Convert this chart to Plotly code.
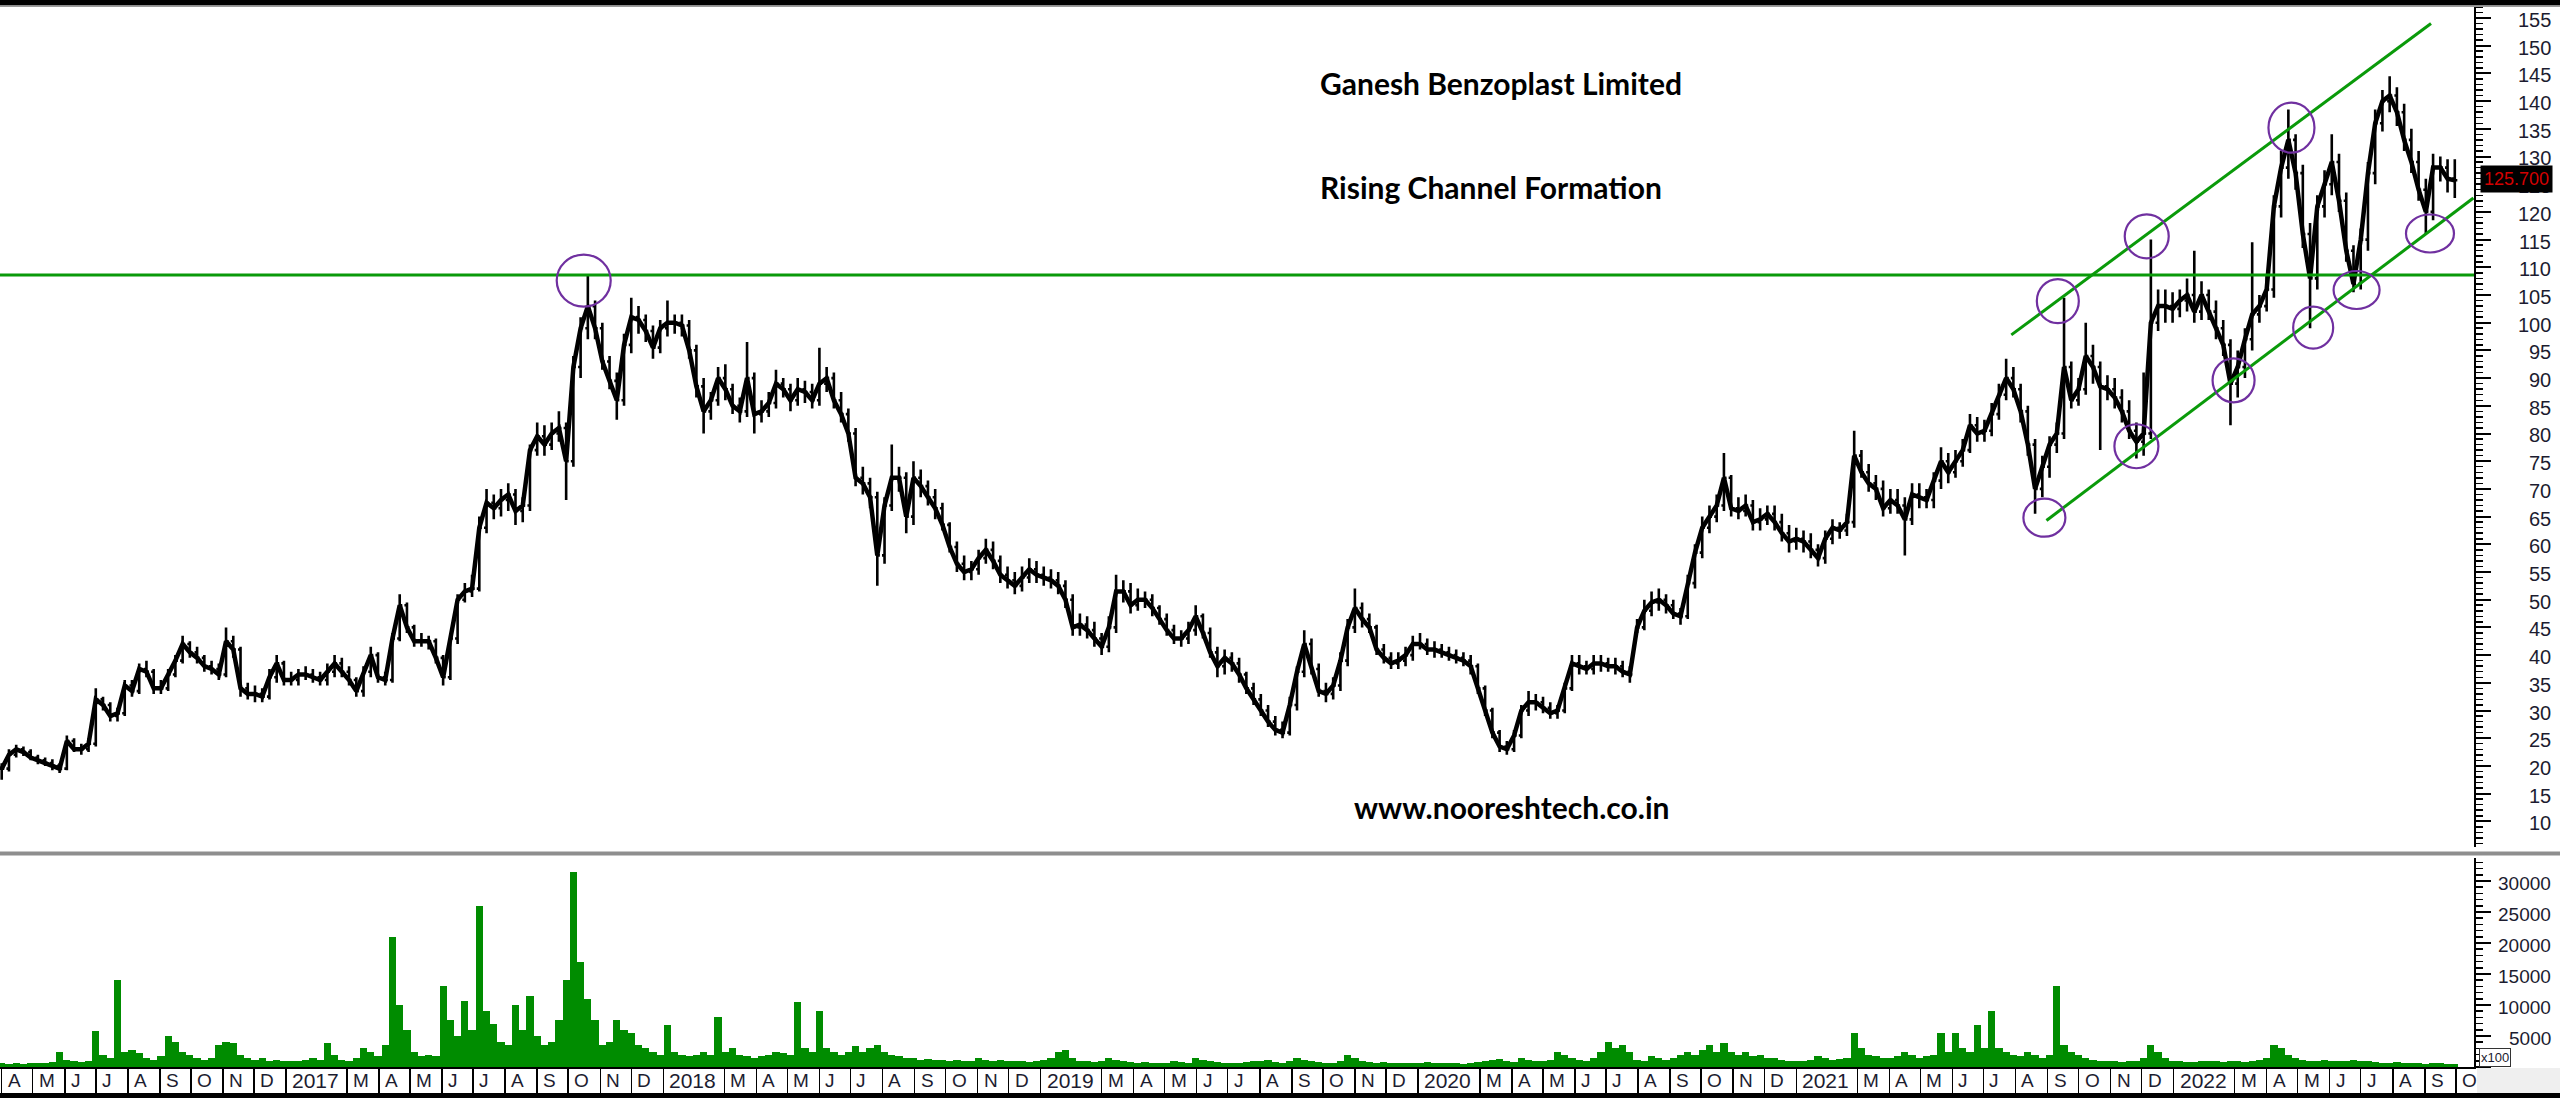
import pandas as pd
import plotly.graph_objects as go

# ---------------- data (weekly) ----------------
week_start = "2016-04-01"

close = [
    19.5, 22, 23, 22.5, 21.5, 21, 20.5, 20, 19.5, 24.5,
    23, 23, 24, 32, 31, 29, 29.5, 34.5, 33.5, 37.5,
    37, 34, 34, 36.5, 39, 42, 40.5, 39.5, 38, 37.5,
    36.5, 42.5, 41, 34, 33, 33, 32.5, 36, 38.5, 35.5,
    35.5, 36.5, 36.5, 36, 35.5, 37, 38.5, 37, 35.5, 33.5,
    37, 40, 36, 35.5, 43, 49, 45, 42.5, 42.5, 42.5,
    39.5, 36, 43, 50, 51.5, 52, 63, 67.5, 66.5, 68,
    69, 66, 67, 77, 79.5, 78, 80, 81, 75, 92,
    99, 103, 99, 93, 89.5, 86, 96, 101, 100.5, 98.5,
    95.5, 99, 100, 100, 99.5, 95, 88.5, 84, 86, 90,
    88, 85, 84, 90, 83.5, 84, 85.5, 89, 88, 86,
    88, 87.5, 86, 89, 90, 86, 83.5, 80, 72, 71,
    68.5, 58, 67, 72, 72, 65, 72, 70.5, 68.5, 66.5,
    63.5, 59.5, 56.5, 55, 55.5, 57.5, 59, 57, 54.5, 53.5,
    52.5, 54, 55.5, 54.5, 54, 53.5, 52.5, 50, 45, 45.5,
    44.5, 43, 41.5, 45, 51.5, 51.5, 49, 50, 50, 48.5,
    46.5, 44.5, 43, 43, 44.5, 47, 44, 40.5, 38, 39.5,
    38.5, 36.5, 34, 32, 30, 28, 26.5, 26, 31, 37,
    42, 37.5, 33.5, 33, 34.5, 39, 45, 48.5, 46.5, 45,
    41, 39.5, 38.5, 39, 40, 42, 42, 41, 41, 40.5,
    40, 39.5, 39, 38, 34, 30, 26, 23.5, 23, 25.5,
    30, 31.5, 31.5, 30.5, 29.5, 30, 34, 38.5, 38, 37.5,
    38.5, 38.5, 38, 38, 37, 36.5, 45, 48, 49.5, 50,
    49, 47.5, 47, 53, 58.5, 63, 65, 67, 72, 66.5,
    66, 67, 64, 64.5, 65.5, 64, 62, 60.5, 61, 60.5,
    59, 57.5, 61, 63, 62.5, 64, 76, 73, 71, 70,
    66.5, 68, 67, 64.5, 69, 68.5, 68, 71.5, 75, 73,
    75, 77, 81.5, 80, 80.5, 83.5, 87, 90, 88, 84,
    78, 70, 74, 78, 80, 92, 86, 88, 94, 92,
    88.5, 88, 86.5, 84, 80.5, 78.5, 80, 100, 103, 103,
    102.5, 104, 105, 102, 105, 102, 99, 96, 89, 92,
    97, 101.5, 103, 106, 121, 128, 133, 127, 116, 108,
    121, 125, 129, 122, 113, 107, 115, 127, 136, 140,
    141, 138, 133, 129, 124, 120, 128, 128, 126, 125.7,
]

high = [
    20.5, 23, 23.8, 23.5, 23, 22, 21.5, 21.2, 20.5, 25.5,
    25, 24, 25, 34, 32.5, 31.5, 30.5, 35.5, 35.5, 38.5,
    39, 37.5, 35.5, 37.5, 40, 43.5, 42.5, 41.5, 40, 39,
    38.5, 45, 43.5, 41.5, 35, 34.5, 34, 37.5, 40, 39,
    37, 37.5, 38, 37.5, 37, 38.5, 40, 39.5, 38, 36,
    38, 41.5, 40.5, 37, 44, 51, 49.5, 45.5, 44, 43.5,
    43, 40, 44, 51, 53, 54.5, 65, 70, 69, 70,
    71, 70, 68.5, 78, 82, 81.5, 82, 84, 82, 94,
    101, 108.5, 104, 100, 94, 91, 98, 104.5, 103, 101.5,
    99.5, 100.5, 104, 101.5, 101.5, 100.5, 96, 90, 87.5, 92,
    92.5, 89, 86.5, 96.5, 91, 86, 87.5, 91.5, 90, 89,
    90, 89.5, 89, 95.5, 92, 91, 87.5, 84.5, 81, 74,
    72, 69.5, 68.5, 78, 74, 73, 75, 73.5, 71.5, 70,
    67.5, 64, 60.5, 58, 57, 59, 61, 60.5, 58, 56,
    55, 56, 57.5, 57, 56, 55.5, 55, 53.5, 51, 47.5,
    47, 46, 44, 47, 54.5, 53.5, 53, 52, 51.5, 51,
    49, 47.5, 45.5, 44.5, 46, 49, 47.5, 45, 41.5, 41,
    40.5, 39.5, 37, 35, 33, 31, 29, 28, 32.5, 38,
    44.5, 43, 38.5, 35, 36, 40.5, 46.5, 52, 49.5, 47.5,
    45.5, 42, 40.5, 40.5, 41.5, 43.5, 44, 43, 42.5, 42,
    41.5, 41, 40.5, 40, 38.5, 34.5, 30.5, 26.5, 24.5, 26.5,
    31, 33.5, 33, 32.5, 31.5, 31, 35, 40, 40, 39,
    40, 40, 39.5, 39.5, 39, 38, 46.5, 50, 51.5, 52,
    51, 50, 48.5, 54.5, 60, 65, 67, 69, 76.5, 72.5,
    68.5, 69, 68, 66.5, 67, 67, 65.5, 63.5, 63, 62.5,
    62, 60, 62.5, 64.5, 64, 65.5, 80.5, 77, 74.5, 72.5,
    71.5, 70, 70, 68.5, 71, 71, 70, 73, 77.5, 76.5,
    77, 79, 83.5, 83, 82.5, 85.5, 89, 93.5, 92, 89,
    85, 79, 76, 79.5, 82, 104.5, 93, 90, 100, 96,
    93, 90.5, 90, 88, 86, 82, 91, 115, 106, 106,
    105.5, 106, 108, 113, 107.5, 106, 104, 100.5, 97, 95,
    99, 114.5, 105, 108.5, 123, 131, 138.5, 134, 128.5, 118,
    123, 127.5, 134, 130.5, 123.5, 114, 117, 129, 138.5, 142,
    144.5, 142.5, 139.5, 135, 131, 126, 130.5, 130, 129.5, 129.5,
]

low = [
    17.5, 19, 21.5, 21.8, 21, 20.3, 20, 19.2, 18.7, 19.2,
    22.5, 22, 22.5, 23.5, 30, 28, 28, 29, 32.5, 33,
    36, 33, 33, 33.5, 36, 38.5, 39.5, 38.5, 37, 36.5,
    35.5, 36, 39.5, 32.5, 32, 31.5, 31.5, 32, 35, 34.5,
    34.5, 34.5, 35.5, 35, 34.5, 34.5, 36, 36, 34.5, 32.5,
    32.5, 36, 35, 34.5, 35, 42.5, 44, 41.5, 41.5, 41,
    38.5, 34.5, 35.5, 42, 49.5, 50.5, 51.5, 62, 64.5, 65,
    66, 63.5, 64, 66, 76, 76, 77, 78.5, 68, 74,
    90, 97, 97, 91.5, 88, 82.5, 85, 94.5, 98, 96.5,
    93.5, 94.5, 97.5, 98, 97.5, 93.5, 86.5, 80, 82.5, 85,
    86, 83.5, 82, 83, 80, 82, 83, 84.5, 86.5, 84,
    85, 85.5, 84.5, 85, 87.5, 84.5, 82, 78.5, 70.5, 69,
    66.5, 52.5, 56.5, 66, 69.5, 62, 63.5, 68.5, 67, 64.5,
    62.5, 58.5, 55, 53.5, 53.5, 54.5, 56.5, 55.5, 53, 52,
    51, 51.5, 53, 53, 52.5, 52, 51, 48.5, 43.5, 43.5,
    43, 41.5, 40, 40.5, 44, 49.5, 47.5, 48, 48.5, 47,
    45.5, 43.5, 42, 41.5, 42, 43.5, 43, 39.5, 36, 36.5,
    37, 35, 33, 31, 29, 27, 25.5, 25, 25.5, 30,
    36, 36.5, 32.5, 31.5, 32, 33.5, 38, 44, 45, 44,
    40, 38.5, 37.5, 37.5, 38, 39, 41, 40, 39.5, 39.5,
    39, 38.5, 38, 36.5, 33, 29, 25, 22.5, 22, 22.5,
    25, 29, 30, 29.5, 28.5, 28.5, 29.5, 33.5, 36.5, 36.5,
    36.5, 37, 37, 36.5, 36, 35, 44, 44.5, 47, 48,
    47.5, 46.5, 45.5, 46.5, 52, 57.5, 62, 64, 66, 65,
    64.5, 65, 62.5, 62.5, 63.5, 62.5, 60.5, 58.5, 59, 58.5,
    57.5, 56, 56.5, 60, 61, 61.5, 63, 72, 69.5, 68,
    65, 65.5, 65.5, 58, 63.5, 66.5, 66.5, 66.5, 70, 71,
    72, 74, 76.5, 78.5, 78.5, 79.5, 82.5, 86, 86.5, 82,
    76, 65.5, 68.5, 72, 76.5, 79, 84.5, 85, 87, 89,
    77, 86, 84.5, 82, 79, 75.5, 76, 79, 98.5, 100,
    100, 101, 102, 100, 100.5, 100.5, 97, 94, 81.5, 86.5,
    90, 95, 100, 102, 104.5, 119, 126, 124, 113.5, 99,
    106, 119, 123, 120, 111, 105.5, 106, 113, 125, 134.5,
    138, 135.5, 131, 127, 122, 116, 118.5, 125.5, 123.5, 122.5,
]

volume = [  # x100 shares
    600, 500, 700, 500, 600, 700, 600, 800, 2500, 1200,
    900, 800, 1000, 5800, 2000, 1500, 14000, 2500, 2800, 2200,
    1500, 1200, 1800, 5000, 4000, 2500, 2000, 1500, 1200, 1500,
    3500, 4000, 3800, 2000, 1500, 1200, 1500, 1000, 1200, 1000,
    900, 1000, 1200, 1500, 1100, 3800, 2000, 1200, 1000, 1500,
    3000, 2500, 1800, 3500, 21000, 10000, 6000, 2500, 1800, 2000,
    1800, 13000, 7600, 5000, 10700, 6000, 26000, 9000, 7000, 4000,
    3500, 10000, 6000, 11500, 5000, 3500, 4000, 7600, 14000, 31500,
    17000, 11000, 7600, 3500, 4000, 7600, 6000, 5500, 3500, 3000,
    2500, 2000, 6800, 2500, 2000, 1800, 2000, 2500, 2000, 8000,
    2500, 3000, 2000, 1800, 1500, 1800, 2000, 2500, 2200, 2000,
    10500, 3000, 2500, 9000, 3000, 2500, 2000, 2500, 3400, 2500,
    3000, 3500, 2500, 2000, 1800, 1500, 1500, 1200, 1300, 1200,
    1100, 1000, 1200, 1000, 900, 1500, 1200, 1000, 1100, 900,
    1000, 900, 800, 1000, 1200, 1500, 2500, 2800, 1500, 1000,
    900, 800, 1000, 1500, 1200, 900, 800, 700, 800, 700,
    600, 700, 900, 800, 700, 1500, 1200, 900, 800, 700,
    600, 700, 800, 900, 1000, 1200, 800, 700, 900, 1500,
    1200, 1000, 800, 700, 700, 900, 2000, 1500, 1000, 800,
    700, 800, 700, 600, 700, 600, 700, 800, 700, 600,
    700, 600, 500, 600, 800, 1000, 1200, 1300, 1000, 800,
    1500, 1200, 1000, 900, 1200, 2500, 2000, 1500, 1200, 1000,
    1500, 2500, 4000, 3000, 3500, 2500, 1200, 1000, 1800, 1500,
    1200, 1500, 2000, 2500, 2000, 2800, 3500, 2500, 3800, 2500,
    2000, 2500, 1800, 2000, 1500, 1500, 1200, 1000, 900, 1000,
    1200, 1800, 1500, 1200, 1300, 1500, 5500, 3000, 2000, 1800,
    1500, 1500, 1800, 2500, 2000, 1500, 1800, 2000, 5500, 2500,
    5500, 3000, 2500, 6800, 3000, 9000, 3000, 2500, 2000, 1800,
    2500, 2000, 1500, 2000, 13000, 3500, 2500, 2000, 1500, 1200,
    1000, 900, 1000, 800, 900, 1000, 1500, 3500, 2500, 1500,
    1000, 900, 800, 800, 900, 1000, 900, 800, 1000, 900,
    800, 1000, 1200, 1500, 3500, 3000, 2000, 1500, 1200, 1000,
    1000, 1200, 1000, 900, 1000, 1200, 1000, 900, 800, 700,
    700, 800, 600, 700, 600, 500, 600, 700, 500, 500,
]

month_labels = (
    ["A", "M", "J", "J", "A", "S", "O", "N", "D"]
    + ["2017", "M", "A", "M", "J", "J", "A", "S", "O", "N", "D"]
    + ["2018", "M", "A", "M", "J", "J", "A", "S", "O", "N", "D"]
    + ["2019", "M", "A", "M", "J", "J", "A", "S", "O", "N", "D"]
    + ["2020", "M", "A", "M", "J", "J", "A", "S", "O", "N", "D"]
    + ["2021", "M", "A", "M", "J", "J", "A", "S", "O", "N", "D"]
    + ["2022", "M", "A", "M", "J", "J", "A", "S", "O"]
)

price_ticks = list(range(10, 160, 5))
volume_ticks = [5000, 10000, 15000, 20000, 25000, 30000]

resistance_level = 108.6
upper_channel = [("2021-07-28", 97.8), ("2022-09-07", 154.0)]
lower_channel = [("2021-08-31", 64.3), ("2022-10-18", 122.5)]
circle_marks = [  # (date, price, rx px, ry px)
    ("2017-10-16", 107.6, 27, 26),
    ("2021-09-11", 103.9, 21, 22),
    ("2021-12-06", 115.6, 22, 22),
    ("2022-04-25", 135.2, 23, 25),
    ("2021-08-29", 64.8, 21, 19),
    ("2021-11-26", 77.7, 22, 22),
    ("2022-02-28", 89.6, 21, 22),
    ("2022-05-16", 99.1, 20, 21),
    ("2022-06-27", 105.9, 23, 19),
    ("2022-09-06", 116.1, 24, 19),
]
last_price = 125.7

assert len(close) == len(high) == len(low) == len(volume) == 340, (len(close), len(high), len(low), len(volume))

# ---------------- build ----------------
W, H = 2560, 1098
PLOT_RIGHT = 2474


def ypap(px):
    return 1 - px / H


def xpap(px):
    return px / W


weeks = pd.date_range(week_start, periods=len(close), freq="7D")
opens = [close[0]] + close[:-1]
opens = [min(max(o, l), h) for o, l, h in zip(opens, low, high)]

month_starts = [d for d in pd.date_range("2016-04-01", "2022-10-01", freq="MS") if d.month != 2]
assert len(month_starts) == len(month_labels)

x_range = ["2016-03-30 08:00", "2022-10-18 14:00"]
FONT = "Liberation Sans, Arial, sans-serif"
GREEN = "#0a9a0a"

fig = go.Figure()
# continuous close path gives the dense daily-bar look
fig.add_trace(go.Scatter(
    x=weeks, y=close, mode="lines", xaxis="x", yaxis="y",
    line=dict(color="black", width=4.5), showlegend=False, hoverinfo="skip",
))
fig.add_trace(go.Ohlc(
    x=weeks, open=opens, high=high, low=low, close=close,
    xaxis="x", yaxis="y",
    increasing=dict(line=dict(color="black", width=2.6)),
    decreasing=dict(line=dict(color="black", width=2.6)),
    tickwidth=0.35, showlegend=False, hoverinfo="skip",
))
fig.add_trace(go.Bar(
    x=weeks, y=volume, xaxis="x2", yaxis="y2",
    marker=dict(color="#008c00", line=dict(width=0)),
    width=7 * 86400000, showlegend=False, hoverinfo="skip",
))

x_dom = [0, PLOT_RIGHT / W]
price_dom = [ypap(847), ypap(7)]
vol_dom = [ypap(1067), ypap(858)]
price_range = [100 - (847 - 322.7) / 5.54, 100 + (322.7 - 7) / 5.54]
vol_range = [0, (1067 - 858) * 5000 / 31]

fig.update_layout(
    width=W, height=H,
    margin=dict(l=0, r=0, t=0, b=0),
    paper_bgcolor="white", plot_bgcolor="white",
    showlegend=False,
    xaxis=dict(domain=x_dom, range=x_range, type="date", anchor="y",
               showticklabels=False, ticks="", showgrid=False, zeroline=False,
               showline=False, rangeslider=dict(visible=False), matches="x2"),
    xaxis2=dict(domain=x_dom, range=x_range, type="date", anchor="y2",
                tickmode="array", tickvals=month_starts, ticks="outside",
                ticklen=26, tickwidth=1.5, tickcolor="black", showticklabels=False,
                showgrid=False, zeroline=False, showline=True, linecolor="black",
                linewidth=2, rangeslider=dict(visible=False)),
    yaxis=dict(domain=price_dom, range=price_range, side="right", anchor="x",
               tickmode="linear", tick0=0, dtick=5, ticks="outside", ticklen=15,
               tickwidth=2, tickcolor="black", showticklabels=False,
               minor=dict(dtick=1, tick0=0, ticks="outside", ticklen=7,
                          tickwidth=1.5, tickcolor="black"),
               showline=True, linecolor="black", linewidth=2,
               showgrid=False, zeroline=False),
    yaxis2=dict(domain=vol_dom, range=vol_range, side="right", anchor="x2",
                tickmode="linear", tick0=0, dtick=5000, ticks="outside", ticklen=15,
                tickwidth=2, tickcolor="black", showticklabels=False,
                minor=dict(dtick=1000, tick0=0, ticks="outside", ticklen=7,
                           tickwidth=1.5, tickcolor="black"),
                showline=True, linecolor="black", linewidth=2,
                showgrid=False, zeroline=False),
    bargap=0,
)

shapes = []
# frame bars
shapes.append(dict(type="rect", xref="paper", yref="paper", x0=0, x1=1,
                   y0=ypap(5.5), y1=1, fillcolor="black", line=dict(width=0), layer="above"))
shapes.append(dict(type="line", xref="paper", yref="paper", x0=0, x1=1,
                   y0=ypap(6.3), y1=ypap(6.3), line=dict(color="#9a9a9a", width=1.5)))
shapes.append(dict(type="rect", xref="paper", yref="paper", x0=0, x1=1,
                   y0=ypap(855.5), y1=ypap(851.5), fillcolor="#8e8e8e", line=dict(width=0)))
shapes.append(dict(type="rect", xref="paper", yref="paper", x0=xpap(2477), x1=1,
                   y0=ypap(1093), y1=ypap(1068), fillcolor="#efefef", line=dict(width=0), layer="below"))
shapes.append(dict(type="rect", xref="paper", yref="paper", x0=0, x1=1,
                   y0=0, y1=ypap(1093), fillcolor="black", line=dict(width=0), layer="above"))
# resistance
shapes.append(dict(type="line", xref="x domain", yref="y", x0=0, x1=1,
                   y0=resistance_level, y1=resistance_level, line=dict(color=GREEN, width=3)))
# channel
for (d0, p0), (d1, p1) in [upper_channel, lower_channel]:
    shapes.append(dict(type="line", xref="x", yref="y", x0=d0, y0=p0, x1=d1, y1=p1,
                       line=dict(color=GREEN, width=3)))
# circles
for d, p, rx, ry in circle_marks:
    shapes.append(dict(type="circle", xref="x", yref="y",
                       xsizemode="pixel", ysizemode="pixel",
                       xanchor=d, yanchor=p, x0=-rx, x1=rx, y0=-ry, y1=ry,
                       line=dict(color="#7030a0", width=2.2)))

annotations = []
# right price-axis labels (right aligned)
for v in price_ticks:
    annotations.append(dict(xref="paper", yref="y", x=xpap(2553), y=v, yshift=-2,
                            xanchor="right", yanchor="middle", showarrow=False,
                            text=str(v), font=dict(family=FONT, size=20, color="#1c1c30")))
for v in volume_ticks:
    annotations.append(dict(xref="paper", yref="y2", x=xpap(2553), y=v, yshift=-2,
                            xanchor="right", yanchor="middle", showarrow=False,
                            text=str(v), font=dict(family=FONT, size=19, color="#1c1c30")))
# last price tag
annotations.append(dict(xref="paper", yref="y", x=xpap(2516), y=last_price, yshift=1,
                        xanchor="center", yanchor="middle", showarrow=False,
                        text=f"{last_price:.3f}", bgcolor="black", borderpad=3,
                        font=dict(family=FONT, size=18, color="#d40000")))
# x100
annotations.append(dict(xref="paper", yref="paper", x=xpap(2479), y=ypap(1057),
                        xanchor="left", yanchor="middle", showarrow=False,
                        text="x100", bgcolor="white", bordercolor="#333", borderwidth=1,
                        borderpad=1, font=dict(family=FONT, size=13, color="#1c1c30")))
# month labels
for d, lab in zip(month_starts, month_labels):
    annotations.append(dict(xref="x2", yref="paper", x=d, y=ypap(1080), xshift=4,
                            xanchor="left", yanchor="middle", showarrow=False, text=lab,
                            font=dict(family=FONT, size=21 if len(lab) == 4 else 19,
                                      color="#1c1c30")))
# texts
TFONT = "Lato, Open Sans, sans-serif"
annotations.append(dict(xref="paper", yref="paper", x=xpap(1318), y=ypap(83),
                        xanchor="left", yanchor="middle", showarrow=False,
                        text="<b>Ganesh Benzoplast Limited</b>",
                        font=dict(family=TFONT, size=30, color="black")))
annotations.append(dict(xref="paper", yref="paper", x=xpap(1318), y=ypap(187),
                        xanchor="left", yanchor="middle", showarrow=False,
                        text="<b>Rising Channel Formation</b>",
                        font=dict(family=TFONT, size=30, color="black")))
annotations.append(dict(xref="paper", yref="paper", x=xpap(1352), y=ypap(807),
                        xanchor="left", yanchor="middle", showarrow=False,
                        text="<b>www.nooreshtech.co.in</b>",
                        font=dict(family=TFONT, size=30, color="black")))

fig.update_layout(shapes=shapes, annotations=annotations)
fig.write_html(
    "out.html",
    config={"displayModeBar": False, "staticPlot": True},
    post_script="document.body.style.margin='0';document.body.style.overflow='hidden';",
)
